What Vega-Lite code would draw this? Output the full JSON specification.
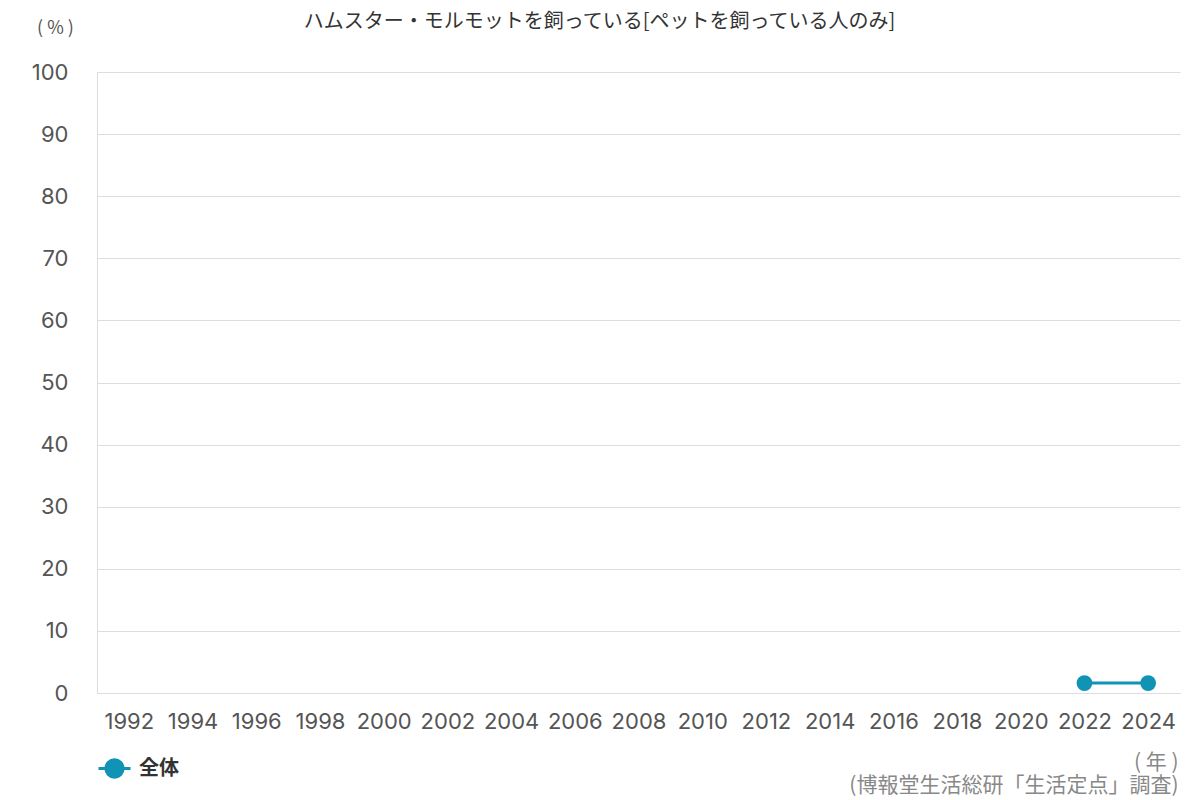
{
  "$schema": "https://vega.github.io/schema/vega-lite/v6.json",
  "autosize": {"type": "none"},
  "width": 1083,
  "height": 621,
  "padding": {"left": 97, "top": 72, "right": 20, "bottom": 107},
  "background": "#ffffff",
  "config": {
    "font": "Noto Sans CJK JP",
    "view": {"stroke": null}
  },
  "title": {
    "text": "ハムスター・モルモットを飼っている[ペットを飼っている人のみ]",
    "fontSize": 20,
    "fontWeight": "normal",
    "color": "#333333",
    "anchor": "middle",
    "dx": -39,
    "offset": 0,
    "dy": 13
  },
  "data": {
    "values": [
      {"year": "2022", "series": "全体", "value": 1.6},
      {"year": "2024", "series": "全体", "value": 1.6}
    ]
  },
  "mark": {"type": "line", "strokeWidth": 3, "point": {"filled": true, "size": 250, "opacity": 1}},
  "encoding": {
    "x": {
      "field": "year",
      "type": "ordinal",
      "scale": {
        "type": "point",
        "padding": 0.5,
        "domain": ["1992", "1994", "1996", "1998", "2000", "2002", "2004", "2006", "2008", "2010", "2012", "2014", "2016", "2018", "2020", "2022", "2024"]
      },
      "axis": {
        "labelAngle": 0,
        "labelFont": "Inter",
        "labelFontSize": 22,
        "labelColor": "#555555",
        "labelPadding": 18,
        "ticks": false,
        "domain": true,
        "domainColor": "#dddddd",
        "grid": false,
        "title": ["( 年 )", "(博報堂生活総研「生活定点」調査)"],
        "titleFontSize": 21,
        "titleFontWeight": "normal",
        "titleColor": "#888888",
        "titleAlign": "right",
        "titleAnchor": "end",
        "titleBaseline": "top",
        "titleLineHeight": 23,
        "titleX": 1081,
        "titleY": 58
      }
    },
    "y": {
      "field": "value",
      "type": "quantitative",
      "scale": {"domain": [0, 100]},
      "axis": {
        "values": [0, 10, 20, 30, 40, 50, 60, 70, 80, 90, 100],
        "labelFont": "Inter",
        "labelFontSize": 22,
        "labelColor": "#555555",
        "labelPadding": 29,
        "ticks": false,
        "domain": true,
        "domainColor": "#dddddd",
        "gridColor": "#dddddd",
        "title": "( % )",
        "titleAngle": 0,
        "titleFontSize": 18,
        "titleFontWeight": "normal",
        "titleColor": "#555555",
        "titleAlign": "center",
        "titleBaseline": "middle",
        "titleX": -42,
        "titleY": -44
      }
    },
    "color": {
      "field": "series",
      "type": "nominal",
      "scale": {"range": ["#1193b6"]},
      "legend": {
        "title": null,
        "orient": "none",
        "legendX": 0,
        "legendY": 679,
        "labelFontSize": 20,
        "labelFontWeight": "bold",
        "labelColor": "#333333",
        "symbolType": "M-1,0H1M0.54,0A0.54,0.54 0 1,1 -0.54,0A0.54,0.54 0 1,1 0.54,0",
        "symbolSize": 1024,
        "symbolStrokeWidth": 3,
        "symbolFillColor": "#1193b6",
        "symbolStrokeColor": "#1193b6",
        "labelOffset": 7
      }
    }
  }
}
